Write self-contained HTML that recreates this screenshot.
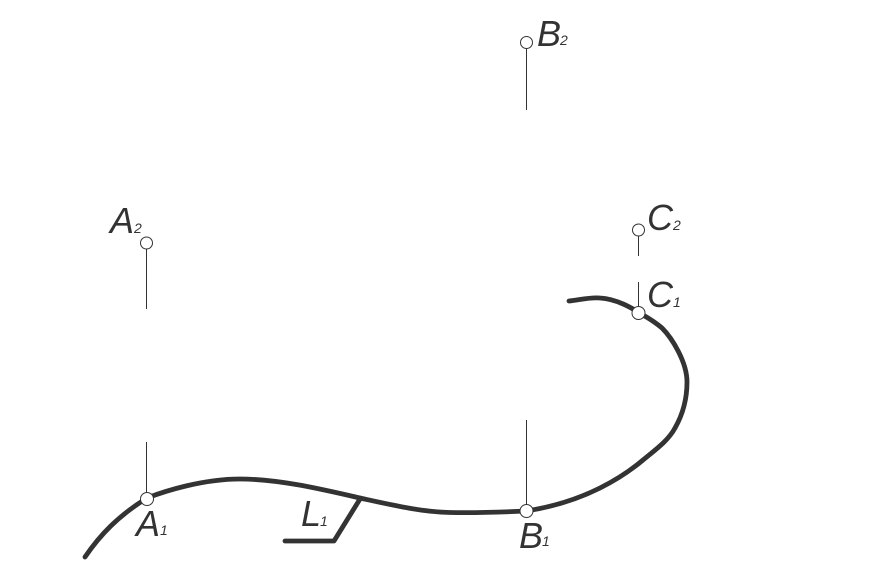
<!DOCTYPE html>
<html>
<head>
<meta charset="utf-8">
<style>
html,body{margin:0;padding:0;background:#fff;width:875px;height:572px;overflow:hidden}
svg{display:block}
text{font-family:"Liberation Sans",sans-serif;font-style:italic;fill:#333}
.m{font-size:36px}
.s{font-size:14px}
</style>
</head>
<body>
<svg width="875" height="572" viewBox="0 0 875 572">
<g fill="none" stroke="#333" stroke-width="4.8" stroke-linecap="round" stroke-linejoin="round">
<path d="M85 557C100 535 118 516 147 498C165 491 203 479 240 479C280 479 325 490 360 498C392 505 422 512 450 512.500C475 513 505 512 526 511C552 507 578 499 600 488C616 480 630 471 643 460C655 450 668 441 675 428C683 414 687 398 687 382C687 362 672 338 662 328C655 322 650 319 643 315C632 308 617 299 600 298C590 297 579 300 569 301"/>
<path d="M360 499L334 541L285 541"/>
</g>
<g stroke="#333" stroke-width="1" fill="none">
<line x1="146.500" y1="442" x2="146.500" y2="498"/>
<line x1="146.500" y1="243" x2="146.500" y2="309"/>
<line x1="526.500" y1="420" x2="526.500" y2="511"/>
<line x1="526.500" y1="43" x2="526.500" y2="110"/>
<line x1="638.500" y1="282" x2="638.500" y2="313"/>
<line x1="638.500" y1="230" x2="638.500" y2="256"/>
</g>
<g fill="#fff" stroke="#333" stroke-width="1">
<circle cx="147" cy="499" r="6.500"/>
<circle cx="146.500" cy="243" r="6"/>
<circle cx="526.500" cy="511" r="6.500"/>
<circle cx="526.500" cy="42.500" r="6"/>
<circle cx="638.500" cy="313" r="6.500"/>
<circle cx="638.500" cy="230" r="6"/>
</g>
<text class="m" x="136" y="536">A</text><text class="s" x="160" y="535">1</text>
<text class="m" x="110" y="233">A</text><text class="s" x="134" y="233">2</text>
<text class="m" x="519" y="548">B</text><text class="s" x="542" y="546">1</text>
<text class="m" x="537" y="46">B</text><text class="s" x="560" y="45">2</text>
<text class="m" x="647" y="307">C</text><text class="s" x="673" y="307">1</text>
<text class="m" x="647" y="230">C</text><text class="s" x="673" y="230">2</text>
<text class="m" x="301" y="526">L</text><text class="s" x="320" y="526">1</text>
</svg>
</body>
</html>
